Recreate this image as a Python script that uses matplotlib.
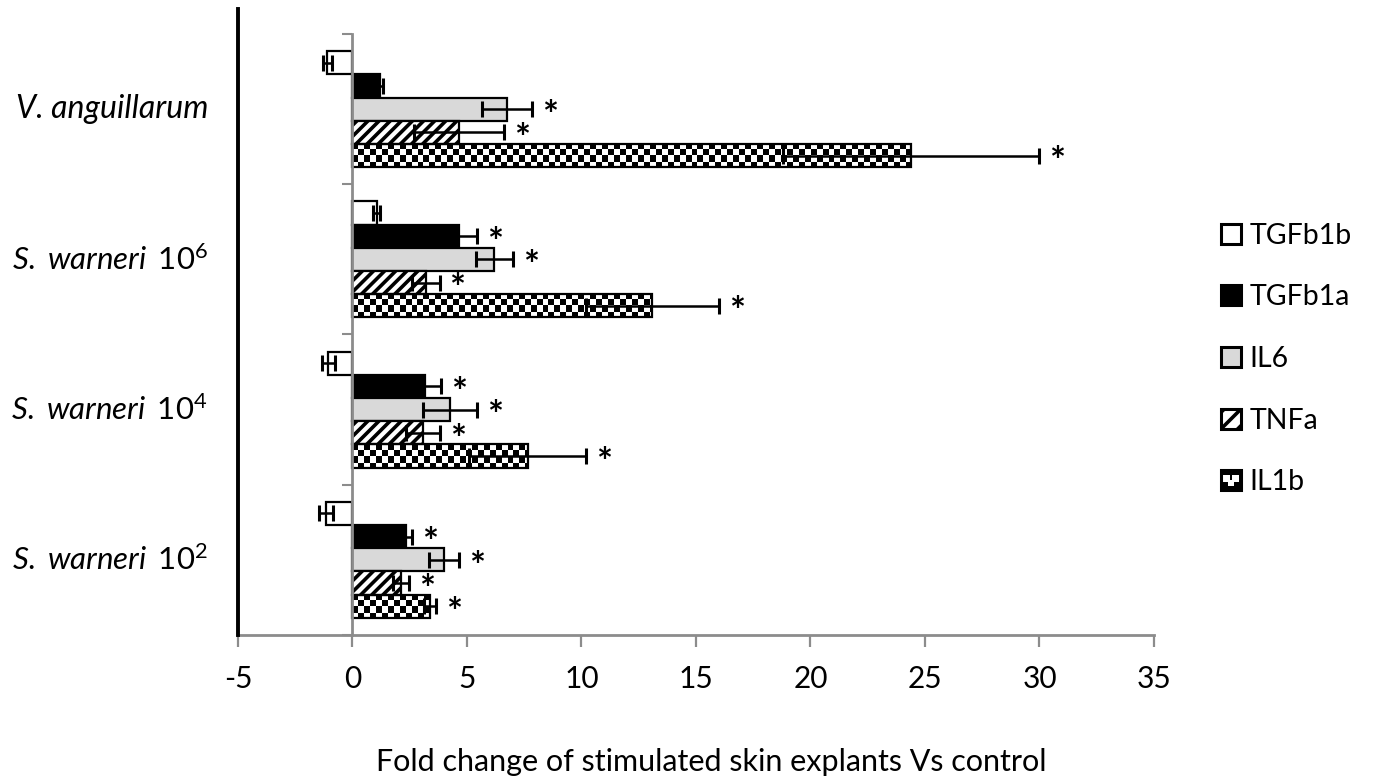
import numpy as np
import matplotlib
matplotlib.use('Agg')
import matplotlib.pyplot as plt
from matplotlib.patches import Patch, Rectangle
from matplotlib.legend_handler import HandlerBase

plt.rcParams['font.family'] = ['Lato', 'DejaVu Sans']
plt.rcParams['mathtext.fontset'] = 'custom'
plt.rcParams['mathtext.rm'] = 'Lato'
plt.rcParams['mathtext.it'] = 'Lato:italic'
plt.rcParams['hatch.linewidth'] = 2.6
plt.rcParams['axes.unicode_minus'] = False

# data
species = ['V. anguillarum', 'S. warneri', 'S. warneri', 'S. warneri']
doses = [None, 6, 4, 2]
genes = ['TGFb1b', 'TGFb1a', 'IL6', 'TNFa', 'IL1b']

tgfb1b = [-1.10, 1.05, -1.05, -1.15]
tgfb1b_err = [0.20, 0.15, 0.30, 0.32]
tgfb1a = [1.20, 4.65, 3.15, 2.35]
tgfb1a_err = [0.15, 0.80, 0.72, 0.24]
il6 = [6.75, 6.20, 4.25, 4.00]
il6_err = [1.08, 0.82, 1.18, 0.66]
tnfa = [4.65, 3.20, 3.07, 2.12]
tnfa_err = [1.95, 0.60, 0.75, 0.36]
il1b = [24.40, 13.10, 7.65, 3.40]
il1b_err = [5.60, 2.90, 2.55, 0.26]

tgfb1b_sig = [False, False, False, False]
tgfb1a_sig = [False, True, True, True]
il6_sig = [True, True, True, True]
tnfa_sig = [True, True, True, True]
il1b_sig = [True, True, True, True]

values = [tgfb1b, tgfb1a, il6, tnfa, il1b]
errors = [tgfb1b_err, tgfb1a_err, il6_err, tnfa_err, il1b_err]
signif = [tgfb1b_sig, tgfb1a_sig, il6_sig, tnfa_sig, il1b_sig]

styles = [
    dict(facecolor='white', hatch=None),
    dict(facecolor='black', hatch=None),
    dict(facecolor='#d9d9d9', hatch=None),
    dict(facecolor='white', hatch='///'),
    dict(facecolor='none', hatch=None),   # checker drawn below
]

GRAY = '#8c8c8c'
FS = 21.5

fig = plt.figure(figsize=(13.73, 7.81), dpi=100)
ax = fig.add_axes([0.17334, 0.18694, 0.66715, 0.76953])

ypos = np.arange(len(species))
h = 0.1547

bar_sets = []
for i, g in enumerate(genes):
    y = ypos + (i - 2) * h
    bars = ax.barh(y, values[i], height=h, edgecolor='black', linewidth=1.6,
                   zorder=3, **styles[i])
    bar_sets.append(bars)
    ax.errorbar(values[i], y, xerr=errors[i], fmt='none', ecolor='black',
                elinewidth=1.8, capsize=6, capthick=2.2, zorder=4)
    for v, e, yy, s in zip(values[i], errors[i], y, signif[i]):
        if s:
            ax.annotate('*', xy=(v + e, yy), xytext=(13, -5.5),
                        textcoords='offset points', ha='center', va='center',
                        fontsize=27, fontweight='bold')

# checkerboard fill for IL1b
cx, cy = 0.26, 0.04
for p in bar_sets[4]:
    x0, w = p.get_x(), p.get_width()
    y0, hh = p.get_y(), p.get_height()
    nx = int(np.ceil(w / cx))
    ny = int(np.ceil(hh / cy))
    arr = np.add.outer(np.arange(ny), np.arange(nx)) % 2
    im = ax.imshow(arr, cmap='gray', extent=(x0, x0 + nx * cx, y0 + ny * cy, y0),
                   interpolation='nearest', aspect='auto', zorder=2.5)
    im.set_clip_path(p)

ax.set_xlim(-5, 35)
ax.set_ylim(3.5, -0.5)
ax.set_xticks(np.arange(-5, 40, 5))
ax.set_yticks(np.arange(-0.5, 4, 1))
ax.set_yticklabels([])

for s in ['top', 'right']:
    ax.spines[s].set_visible(False)
ax.spines['left'].set_position(('data', 0))
ax.spines['left'].set_color(GRAY)
ax.spines['left'].set_linewidth(2)
ax.spines['left'].set_zorder(5)
ax.spines['bottom'].set_color(GRAY)
ax.spines['bottom'].set_linewidth(2)
ax.tick_params(axis='y', length=7, width=1.5, color=GRAY, direction='out')
ax.tick_params(axis='x', length=8.6, width=1.6, color=GRAY, labelsize=FS, pad=13)

# black vertical line at x=-5
ax.axvline(-5, ymin=0, ymax=1 + 25 / 601, color='black', lw=2.8, clip_on=False, zorder=6)

# category labels
for yy, sp, d in zip(ypos, species, doses):
    if d is None:
        ax.annotate(sp, xy=(0, yy), xycoords=('axes fraction', 'data'),
                    xytext=(-30 / 1.389, 0), textcoords='offset points',
                    ha='right', va='center', fontsize=23, style='italic')
    else:
        lab = (r'$\mathit{' + sp.replace(' ', r'\;') + r'}\ \,\mathrm{10}^{\mathrm{'
               + str(d) + '}}$')
        ax.annotate(lab, xy=(0, yy), xycoords=('axes fraction', 'data'),
                    xytext=(-30 / 1.389, 0), textcoords='offset points',
                    ha='right', va='center', fontsize=22.5)

fig.text(711 / 1373, 1 - 762 / 781, 'Fold change of stimulated skin explants Vs control',
         ha='center', va='center', fontsize=22)


class CheckerHandler(HandlerBase):
    def create_artists(self, legend, orig_handle, xdescent, ydescent, width, height, fontsize, trans):
        x0, y0 = -xdescent, -ydescent
        arts = [Rectangle((x0, y0), width, height, facecolor='black', edgecolor='none', transform=trans)]
        cw, ch = width / 3, height / 3
        for (i, j) in [(1, 1), (0, 2), (2, 2)]:
            arts.append(Rectangle((x0 + (i * 0.7 + 0.3) * cw, y0 + (j * 0.7 - 0.1) * ch), cw, ch,
                                  facecolor='white', edgecolor='none', transform=trans))
        arts.append(Rectangle((x0, y0), width, height, facecolor='none', edgecolor='black',
                              linewidth=2.2, transform=trans))
        return arts


handles = [Patch(facecolor='white', edgecolor='black', linewidth=2.2),
           Patch(facecolor='black', edgecolor='black', linewidth=2.2),
           Patch(facecolor='#d9d9d9', edgecolor='black', linewidth=2.2),
           Patch(facecolor='white', edgecolor='black', linewidth=2.2, hatch='//'),
           Patch(facecolor='black')]
fig.legend(handles, genes, loc='center left', bbox_to_anchor=(1221 / 1373, 1 - 359 / 781),
           frameon=False, fontsize=20.5, handlelength=0.7, handleheight=0.7,
           handletextpad=0.3, labelspacing=1.25, borderpad=0, borderaxespad=0,
           handler_map={handles[4]: CheckerHandler()})

fig.savefig('out.png', dpi=100)
